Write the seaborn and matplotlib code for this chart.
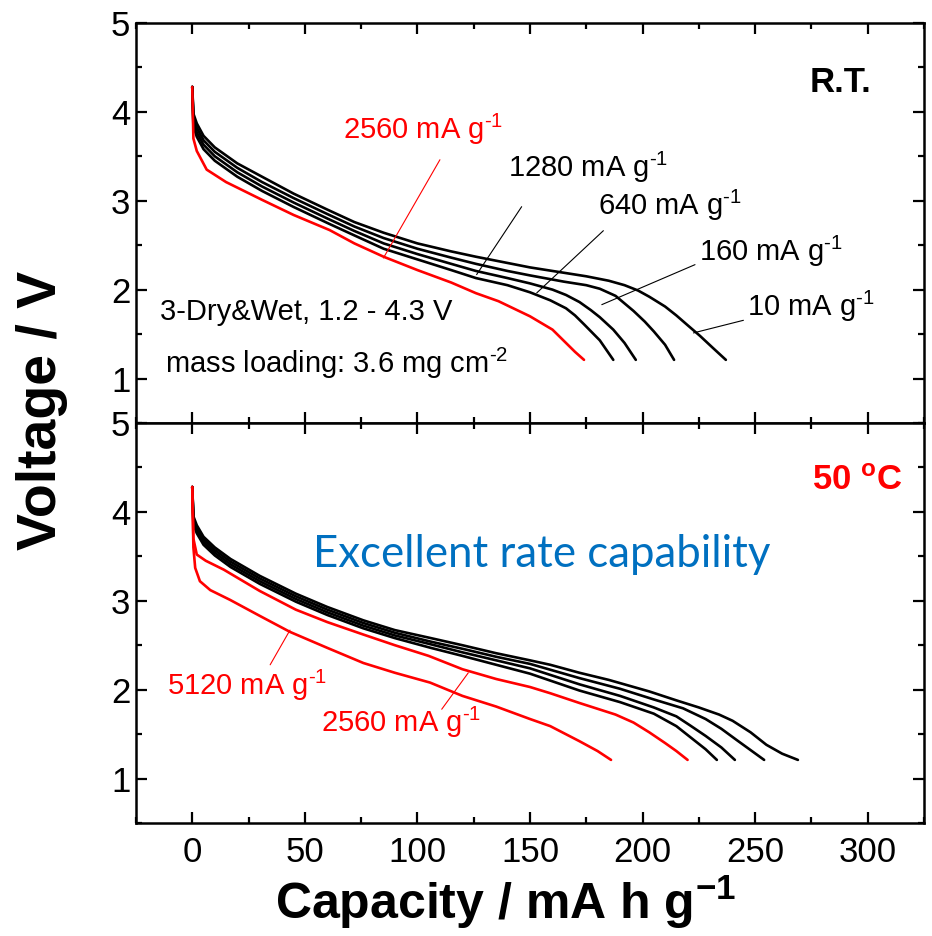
import numpy as np
import pandas as pd
import matplotlib
matplotlib.use("Agg")
import matplotlib.pyplot as plt
from matplotlib import font_manager as fm
from matplotlib.ticker import MultipleLocator
import seaborn as sns

# ---------------- data: room temperature ----------------
rt_rates = ["10", "160", "640", "1280", "2560"]
rt_cap_10 = [0, 0.5, 2, 5, 10, 20, 31, 45, 60, 72, 85, 100, 115, 126, 140, 150, 165, 175, 185, 192, 198, 203, 210, 215, 220, 225.5, 231, 237]
rt_v_10 = [4.28, 3.98, 3.87, 3.73, 3.60, 3.42, 3.27, 3.08, 2.90, 2.76, 2.64, 2.52, 2.43, 2.37, 2.30, 2.25, 2.19, 2.15, 2.10, 2.05, 1.99, 1.92, 1.81, 1.71, 1.60, 1.48, 1.35, 1.21]
rt_cap_160 = [0, 0.5, 2, 5, 10, 20, 31, 45, 60, 72, 85, 100, 115, 126, 140, 150, 165, 175, 181, 188, 196, 201, 205, 210, 214]
rt_v_160 = [4.28, 3.93, 3.82, 3.68, 3.55, 3.37, 3.21, 3.03, 2.85, 2.71, 2.58, 2.46, 2.36, 2.29, 2.21, 2.16, 2.09, 2.05, 2.01, 1.93, 1.76, 1.64, 1.53, 1.38, 1.21]
rt_cap_640 = [0, 0.5, 2, 5, 10, 20, 31, 45, 60, 72, 85, 100, 115, 126, 140, 150, 160, 166, 172, 177, 181, 187, 192, 197]
rt_v_640 = [4.28, 3.88, 3.77, 3.63, 3.50, 3.32, 3.16, 2.98, 2.80, 2.66, 2.52, 2.40, 2.29, 2.21, 2.13, 2.07, 2.00, 1.94, 1.86, 1.77, 1.69, 1.55, 1.40, 1.21]
rt_cap_1280 = [0, 0.5, 2, 5, 10, 20, 31, 45, 60, 72, 85, 100, 115, 126, 140, 150, 159, 166, 170, 174, 181, 187]
rt_v_1280 = [4.28, 3.84, 3.72, 3.58, 3.45, 3.27, 3.11, 2.93, 2.75, 2.61, 2.46, 2.34, 2.22, 2.13, 2.05, 1.97, 1.88, 1.79, 1.71, 1.61, 1.43, 1.21]
rt_cap_2560 = [0, 0.5, 2, 6.4, 15, 31, 45, 61, 72, 85, 100, 115, 126, 136, 150, 160, 166, 170, 174]
rt_v_2560 = [4.28, 3.70, 3.56, 3.35, 3.21, 3.01, 2.84, 2.67, 2.52, 2.37, 2.22, 2.08, 1.96, 1.87, 1.70, 1.55, 1.40, 1.30, 1.21]

# ---------------- data: 50 C ----------------
ht_rates = ["10", "160", "640", "1280", "2560", "5120"]
ht_cap_10 = [0, 0.5, 2, 5, 10, 17, 30, 46, 60, 76, 90, 106, 120, 135, 150, 159, 172, 185, 203, 215, 225, 234, 240, 248, 255, 262, 269]
ht_v_10 = [4.28, 3.95, 3.85, 3.72, 3.60, 3.47, 3.28, 3.08, 2.93, 2.78, 2.67, 2.58, 2.50, 2.41, 2.33, 2.28, 2.19, 2.11, 1.98, 1.88, 1.80, 1.72, 1.65, 1.52, 1.38, 1.28, 1.21]
ht_cap_160 = [0, 0.5, 2, 5, 10, 17, 30, 46, 60, 76, 90, 106, 120, 135, 150, 172, 190, 205, 218, 228, 235, 242, 248, 254]
ht_v_160 = [4.28, 3.92, 3.82, 3.69, 3.57, 3.44, 3.25, 3.05, 2.90, 2.75, 2.64, 2.54, 2.46, 2.37, 2.29, 2.13, 2.01, 1.89, 1.79, 1.67, 1.56, 1.43, 1.32, 1.21]
ht_cap_640 = [0, 0.5, 2, 5, 10, 17, 30, 46, 60, 76, 90, 106, 120, 135, 150, 172, 190, 205, 215, 221, 228, 235, 241]
ht_v_640 = [4.28, 3.89, 3.79, 3.66, 3.54, 3.41, 3.22, 3.02, 2.87, 2.72, 2.61, 2.51, 2.42, 2.33, 2.24, 2.06, 1.93, 1.80, 1.70, 1.60, 1.48, 1.35, 1.21]
ht_cap_1280 = [0, 0.5, 2, 5, 10, 17, 30, 46, 60, 76, 90, 106, 120, 135, 150, 172, 190, 205, 215, 222, 228, 233]
ht_v_1280 = [4.28, 3.86, 3.76, 3.63, 3.51, 3.38, 3.19, 2.99, 2.84, 2.69, 2.58, 2.47, 2.38, 2.28, 2.18, 1.99, 1.86, 1.73, 1.59, 1.45, 1.33, 1.21]
ht_cap_2560 = [0, 0.5, 2, 6, 14, 30, 46, 60, 76, 90, 105, 120, 135, 150, 159, 172, 188, 196, 203, 210, 215, 220]
ht_v_2560 = [4.28, 3.70, 3.52, 3.45, 3.35, 3.11, 2.90, 2.76, 2.62, 2.50, 2.38, 2.23, 2.12, 2.03, 1.96, 1.85, 1.72, 1.63, 1.52, 1.40, 1.31, 1.21]
ht_cap_5120 = [0, 0.5, 1.3, 3.4, 8, 16.8, 30, 43.4, 60, 76, 90, 105.6, 120, 135, 150, 159, 172, 180, 186]
ht_v_5120 = [4.28, 3.60, 3.37, 3.22, 3.12, 3.01, 2.83, 2.65, 2.47, 2.30, 2.19, 2.08, 1.93, 1.81, 1.67, 1.59, 1.42, 1.31, 1.21]

# label texts
rt_label_text = ["2560 mA g$^{\\text{-1}}$", "1280 mA g$^{\\text{-1}}$", "640 mA g$^{\\text{-1}}$",
                 "160 mA g$^{\\text{-1}}$", "10 mA g$^{\\text{-1}}$"]
ht_label_text = ["5120 mA g$^{\\text{-1}}$", "2560 mA g$^{\\text{-1}}$"]


def build(rates, caps, volts):
    frames = []
    for r, c, v in zip(rates, caps, volts):
        frames.append(pd.DataFrame({"cap": c, "V": v, "rate": r}))
    return pd.concat(frames, ignore_index=True)


df_rt = build(rt_rates, [rt_cap_10, rt_cap_160, rt_cap_640, rt_cap_1280, rt_cap_2560],
              [rt_v_10, rt_v_160, rt_v_640, rt_v_1280, rt_v_2560])
df_ht = build(ht_rates, [ht_cap_10, ht_cap_160, ht_cap_640, ht_cap_1280, ht_cap_2560, ht_cap_5120],
              [ht_v_10, ht_v_160, ht_v_640, ht_v_1280, ht_v_2560, ht_v_5120])

RED = "#FF0000"
BLUE = "#0070C0"
pal_rt = {"10": "black", "160": "black", "640": "black", "1280": "black", "2560": RED}
pal_ht = {"10": "black", "160": "black", "640": "black", "1280": "black", "2560": RED, "5120": RED}

sns.set_style("ticks")
names = {f.name for f in fm.fontManager.ttflist}
BASE = "Liberation Sans" if "Liberation Sans" in names else "DejaVu Sans"
NARROW = "Liberation Sans Narrow" if "Liberation Sans Narrow" in names else BASE
CAL = "Lato" if "Lato" in names else BASE
plt.rcParams["font.family"] = [BASE, "DejaVu Sans"]
plt.rcParams["mathtext.fontset"] = "custom"
plt.rcParams["mathtext.rm"] = BASE
plt.rcParams["mathtext.it"] = BASE + ":italic"
plt.rcParams["mathtext.bf"] = BASE + ":bold"
for k in ["text.color", "axes.labelcolor", "xtick.color", "ytick.color", "axes.edgecolor"]:
    plt.rcParams[k] = "black"

fig = plt.figure(figsize=(9.32, 9.36), dpi=100)
ax1 = fig.add_axes([0.1459, 0.5481, 0.8455, 0.4274])
ax2 = fig.add_axes([0.1459, 0.1207, 0.8455, 0.4274])

sns.lineplot(data=df_rt, x="cap", y="V", hue="rate", palette=pal_rt, sort=False,
             estimator=None, legend=False, linewidth=1.9, ax=ax1)
sns.lineplot(data=df_ht, x="cap", y="V", hue="rate", palette=pal_ht, sort=False,
             estimator=None, legend=False, linewidth=1.9, ax=ax2)

for ax in (ax1, ax2):
    ax.set_xlim(-25, 325)
    ax.set_ylim(0.5, 5)
    ax.xaxis.set_major_locator(MultipleLocator(50))
    ax.xaxis.set_minor_locator(MultipleLocator(25))
    ax.yaxis.set_major_locator(MultipleLocator(1))
    ax.yaxis.set_minor_locator(MultipleLocator(0.5))
    ax.tick_params(which="both", direction="in", top=True, right=True, width=1.6,
                   color="black", labelcolor="black")
    ax.tick_params(which="major", length=8)
    ax.tick_params(which="minor", length=4.5)
    ax.tick_params(axis="y", labelsize=25, pad=4)
    for s in ax.spines.values():
        s.set_linewidth(1.8)
        s.set_color("black")
    ax.set_xlabel("")
    ax.set_ylabel("")
    ax.set_yticks([1, 2, 3, 4, 5])
    ax.set_yticklabels(["1", "2", "3", "4", "5"])

ax1.tick_params(axis="x", labelbottom=False)
ax2.tick_params(axis="x", labelsize=25, pad=9)
for lab in ax2.get_xticklabels():
    lab.set_fontfamily(NARROW)

# ---- annotations top panel ----
FS = 21
ax1.text(274.4, 4.22, "R.T.", fontsize=25, fontweight="bold", color="black")
ax1.text(-14.3, 1.66, "3-Dry&Wet, 1.2 - 4.3 V", fontsize=FS, color="black")
ax1.text(-12.1, 1.06, "mass loading: 3.6 mg cm$^{\\text{-2}}$", fontsize=FS, color="black")
rt_lab_pos = [(67.1, 3.70), (140.4, 3.27), (180.4, 2.84), (225.1, 2.32), (246.3, 1.70)]
rt_lab_col = [RED, "black", "black", "black", "black"]
for t, (x, y), c in zip(rt_label_text, rt_lab_pos, rt_lab_col):
    ax1.text(x, y, t, fontsize=FS, color=c)
rt_conn = [((84.9, 2.356), (110.0, 3.461)), ((126.3, 2.169), (146.3, 2.933)),
           ((153.0, 1.963), (182.6, 2.663)), ((181.9, 1.831), (223.3, 2.281)),
           ((222.6, 1.513), (244.8, 1.655))]
for (p, q), c in zip(rt_conn, rt_lab_col):
    ax1.plot([p[0], q[0]], [p[1], q[1]], color=c, linewidth=0.8)

# ---- annotations bottom panel ----
ax2.text(275.2, 4.25, "50 $^{\\mathbf{o}}$C", fontsize=25, fontweight="bold", color=RED)
ax2.text(53.5, 3.38, "Excellent rate capability", fontsize=31.5, color=BLUE, fontfamily=CAL)
ht_lab_pos = [(-11.1, 1.94), (57.0, 1.52)]
for t, (x, y) in zip(ht_label_text, ht_lab_pos):
    ax2.text(x, y, t, fontsize=FS, color=RED)
ht_conn = [((34.6, 2.28), (43.4, 2.67)), ((110.8, 1.78), (122.6, 2.19))]
for p, q in ht_conn:
    ax2.plot([p[0], q[0]], [p[1], q[1]], color=RED, linewidth=0.8)

fig.text(0.045, 0.562, "Voltage / V", rotation=90, ha="center", va="center",
         fontsize=40, fontweight="bold", fontfamily=NARROW)
fig.text(0.542, 0.018, "Capacity / mA h g$^{\\mathbf{-1}}$", ha="center", va="baseline",
         fontsize=36, fontweight="bold", fontfamily=NARROW)

fig.savefig("out.png", dpi=100, facecolor="white")
